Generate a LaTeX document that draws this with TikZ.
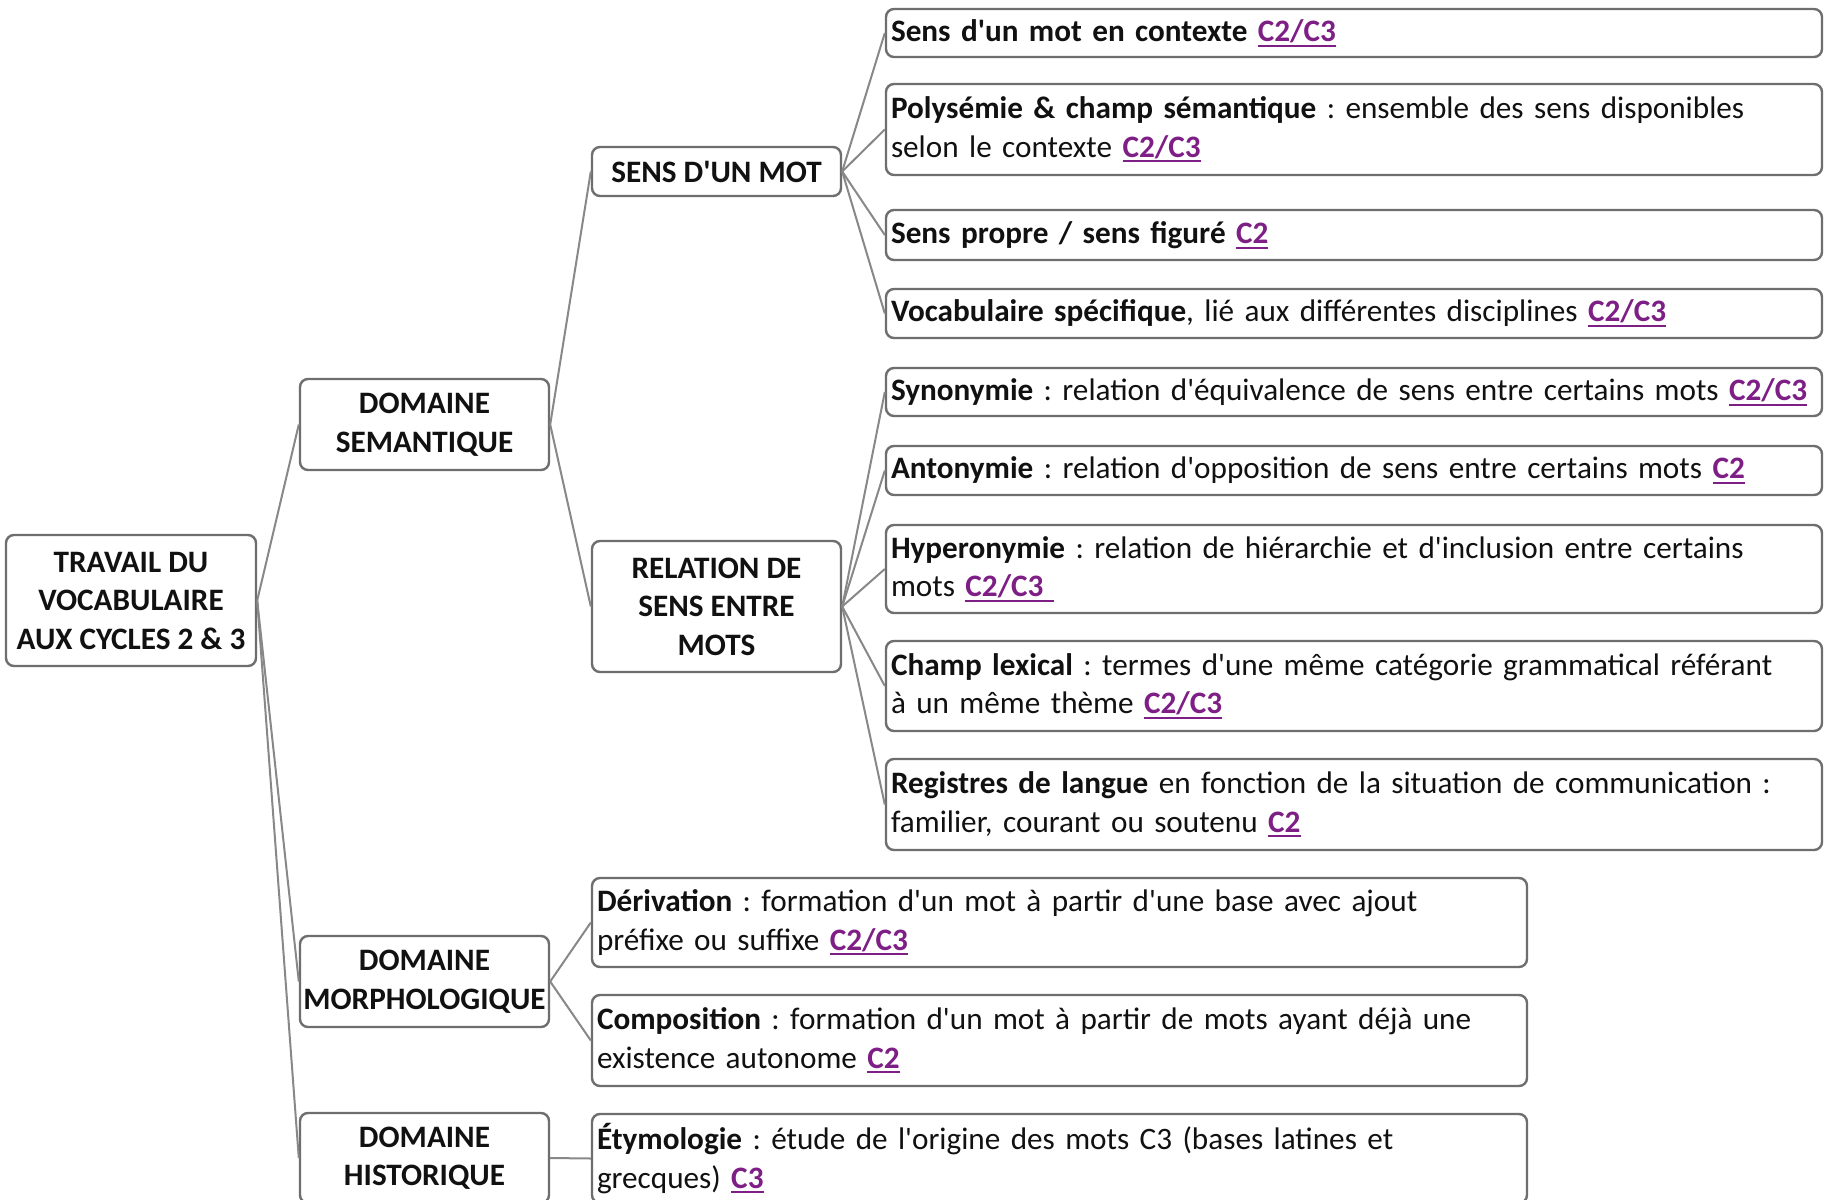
\documentclass[tikz,border=0pt]{standalone}
\usepackage{fontspec}
\setmainfont{Carlito}[Ligatures=TeXOff]
\usepackage{xcolor}
\definecolor{linkc}{RGB}{126,31,134}
\definecolor{boxc}{RGB}{110,110,110}
\definecolor{linec}{RGB}{136,136,136}
\definecolor{txtc}{RGB}{17,17,17}
\newcommand\lk[1]{\textcolor{linkc}{\bfseries\setbox0\hbox{#1}\rlap{\rule[-2.6pt]{\wd0}{1pt}}\box0}}
\frenchspacing
\begin{document}
\begin{tikzpicture}[x=0.5pt,y=-0.5pt,
  every node/.style={font=\fontsize{15.6}{19.25}\selectfont, text=txtc},
  bx/.style={draw=boxc, line width=1.2pt, rounded corners=4pt, inner sep=0pt, fill=white},
  mid/.style={bx, align=center, font=\fontsize{15.6}{19.25}\selectfont\bfseries, minimum width=124.5pt},
  leaf/.style={bx, align=left, inner xsep=2.5pt, text width=463pt, minimum width=468pt},
  mleaf/.style={bx, align=left, inner xsep=2.5pt, text width=462.5pt, minimum width=467.5pt},
  conn/.style={draw=linec, line width=1pt}]
\useasboundingbox (0,0) rectangle (1825,1199);
\clip (0,0) rectangle (1825,1199);
\fill[white] (0,0) rectangle (1825,1199);

% main nodes
\node[mid, minimum width=125pt, minimum height=65.5pt] (root) at (131,600.5) {TRAVAIL DU\\VOCABULAIRE\\AUX CYCLES 2 \& 3};
\node[mid, minimum height=45.5pt] (ds) at (424.5,424.5) {DOMAINE\\SEMANTIQUE};
\node[mid, minimum height=24.5pt] (sens) at (716.5,171.5) {SENS D'UN MOT};
\node[mid, minimum height=65.5pt] (rel) at (716.5,606.5) {RELATION DE\\SENS ENTRE\\MOTS};
\node[mid, minimum height=45.5pt] (morph) at (424.5,981.5) {DOMAINE\\MORPHOLOGIQUE};
\node[mid, minimum height=45pt] (hist) at (424.5,1158) {DOMAINE\\HISTORIQUE};

% leaves of SENS D'UN MOT
\node[leaf, minimum height=24pt] (l1) at (1354,33) {\textbf{Sens d'un mot en contexte} \lk{C2/C3}};
\node[leaf, minimum height=45.5pt] (l2) at (1354,129.5) {\textbf{Polysémie \& champ sémantique} : ensemble des sens disponibles\\selon le contexte \lk{C2/C3}};
\node[leaf, minimum height=25pt] (l3) at (1354,235) {\textbf{Sens propre / sens figuré} \lk{C2}};
\node[leaf, minimum height=24.5pt] (l4) at (1354,313.5) {\textbf{Vocabulaire spécifique}, lié aux différentes disciplines \lk{C2/C3}};

% leaves of RELATION
\node[leaf, minimum height=24pt] (l5) at (1354,392) {\textbf{Synonymie} : relation d'équivalence de sens entre certains mots \lk{C2/C3}};
\node[leaf, minimum height=24.5pt] (l6) at (1354,470.5) {\textbf{Antonymie} : relation d'opposition de sens entre certains mots \lk{C2}};
\node[leaf, minimum height=44pt] (l7) at (1354,569) {\textbf{Hyperonymie} : relation de hiérarchie et d'inclusion entre certains\\mots \lk{C2/C3\,\,}};
\node[leaf, minimum height=45pt] (l8) at (1354,686) {\textbf{Champ lexical} : termes d'une même catégorie grammatical référant\\à un même thème \lk{C2/C3}};
\node[leaf, minimum height=45.5pt] (l9) at (1354,804.5) {\textbf{Registres de langue} en fonction de la situation de communication :\\familier, courant ou soutenu \lk{C2}};

% leaves of morphology / history
\node[mleaf, minimum height=44.5pt] (m1) at (1059.5,922.5) {\textbf{Dérivation} : formation d'un mot à partir d'une base avec ajout\\préfixe ou suffixe \lk{C2/C3}};
\node[mleaf, minimum height=45.5pt] (m2) at (1059.5,1040.5) {\textbf{Composition} : formation d'un mot à partir de mots ayant déjà une\\existence autonome \lk{C2}};
\node[mleaf, minimum height=44.5pt] (e1) at (1059.5,1158.5) {\textbf{Étymologie} : étude de l'origine des mots C3 (bases latines et\\grecques) \lk{C3}};

% connectors
\draw[conn] (root.east) -- (ds.west);
\draw[conn] (root.east) -- (morph.west);
\draw[conn] (root.east) -- (hist.west);
\draw[conn] (ds.east) -- (sens.west);
\draw[conn] (ds.east) -- (rel.west);
\foreach \n in {l1,l2,l3,l4} \draw[conn] (sens.east) -- (\n.west);
\foreach \n in {l5,l6,l7,l8,l9} \draw[conn] (rel.east) -- (\n.west);
\draw[conn] (morph.east) -- (m1.west);
\draw[conn] (morph.east) -- (m2.west);
\draw[conn] (hist.east) -- (e1.west);
\end{tikzpicture}
\end{document}
